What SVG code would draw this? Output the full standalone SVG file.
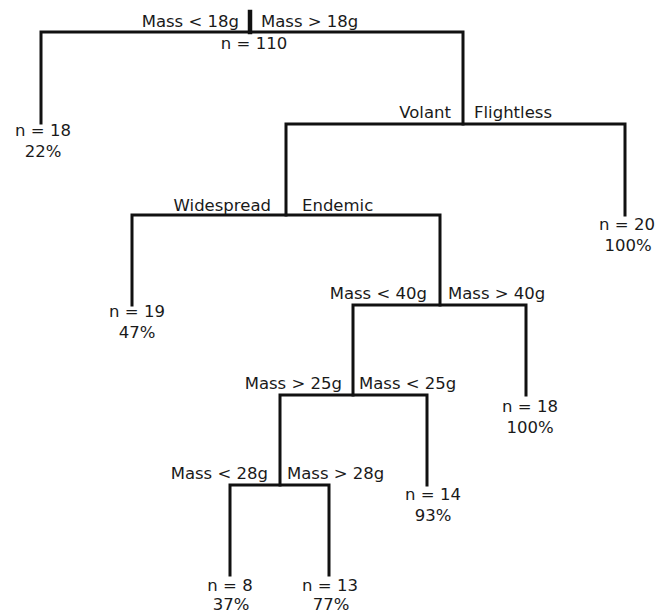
<svg xmlns="http://www.w3.org/2000/svg" width="672" height="614" viewBox="0 0 672 614">
<style>
text{font-family:"DejaVu Sans","Liberation Sans",sans-serif;font-size:16.5px;fill:#1a1a1a}
.l{text-anchor:end}.r{text-anchor:start}.c{text-anchor:middle}
.e{fill:none;stroke:#111;stroke-width:3;stroke-linecap:square}
</style>
<rect width="672" height="614" fill="#fff"/>
<g id="connectors">
<path class="e" d="M250 12V32" style="stroke-width:4.5"/>
<path class="e" d="M41 123V32H463V124"/>
<path class="e" d="M286 215V124H625V215"/>
<path class="e" d="M132 305V215H440V305"/>
<path class="e" d="M353 395V305H526V395"/>
<path class="e" d="M280 485V395H427V485"/>
<path class="e" d="M230 575V485H329V575"/>
</g>
<g id="root"><text class="l" x="239" y="27">Mass &lt; 18g</text><text class="r" x="261" y="27">Mass &gt; 18g</text><text class="c" x="254" y="49">n = 110</text></g>
<g id="node-flight"><text class="l" x="451" y="118">Volant</text><text class="r" x="474" y="118">Flightless</text></g>
<g id="node-range"><text class="l" x="271" y="211">Widespread</text><text class="r" x="302" y="211">Endemic</text></g>
<g id="node-mass40"><text class="l" x="427" y="299">Mass &lt; 40g</text><text class="r" x="448" y="299">Mass &gt; 40g</text></g>
<g id="node-mass25"><text class="l" x="342" y="389">Mass &gt; 25g</text><text class="r" x="359" y="389">Mass &lt; 25g</text></g>
<g id="node-mass28"><text class="l" x="268" y="479">Mass &lt; 28g</text><text class="r" x="287" y="479">Mass &gt; 28g</text></g>
<g id="leaf-18a"><text class="c" x="43" y="136">n = 18</text><text class="c" x="43" y="157">22%</text></g>
<g id="leaf-20"><text class="c" x="627" y="230">n = 20</text><text class="c" x="628" y="251">100%</text></g>
<g id="leaf-19"><text class="c" x="137" y="317">n = 19</text><text class="c" x="137" y="338">47%</text></g>
<g id="leaf-18b"><text class="c" x="530" y="412">n = 18</text><text class="c" x="530" y="433">100%</text></g>
<g id="leaf-14"><text class="c" x="433" y="500">n = 14</text><text class="c" x="433" y="521">93%</text></g>
<g id="leaf-8"><text class="c" x="230" y="591">n = 8</text><text class="c" x="231" y="610">37%</text></g>
<g id="leaf-13"><text class="c" x="330" y="591">n = 13</text><text class="c" x="331" y="610">77%</text></g>
</svg>
